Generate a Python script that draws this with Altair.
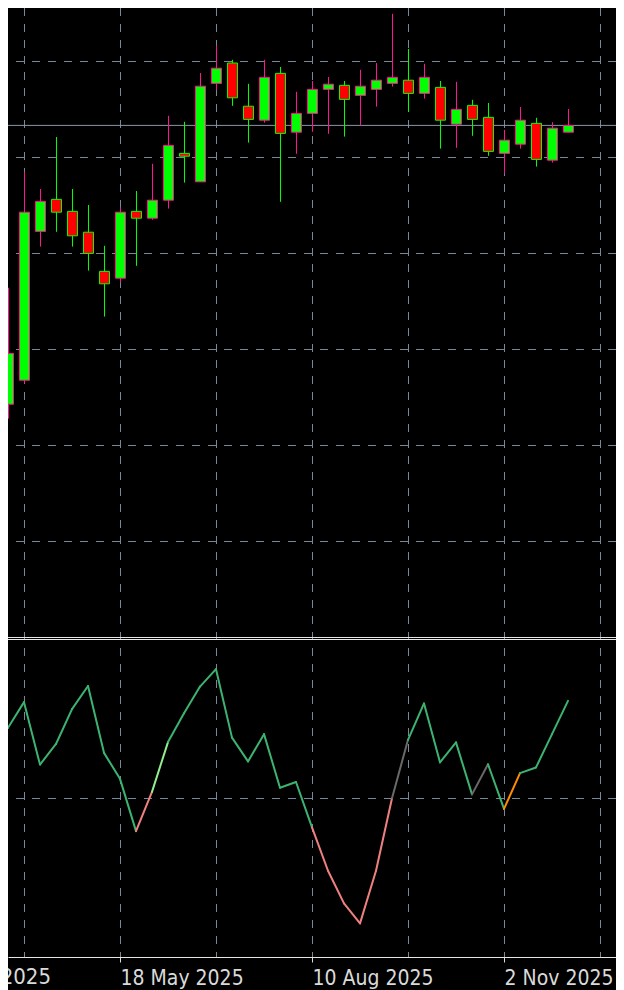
import altair as alt
import pandas as pd

# ---------------- data ----------------
weeks = [
    "2025-03-30", "2025-04-06", "2025-04-13", "2025-04-20", "2025-04-27", "2025-05-04",
    "2025-05-11", "2025-05-18", "2025-05-25", "2025-06-01", "2025-06-08", "2025-06-15",
    "2025-06-22", "2025-06-29", "2025-07-06", "2025-07-13", "2025-07-20", "2025-07-27",
    "2025-08-03", "2025-08-10", "2025-08-17", "2025-08-24", "2025-08-31", "2025-09-07",
    "2025-09-14", "2025-09-21", "2025-09-28", "2025-10-05", "2025-10-12", "2025-10-19",
    "2025-10-26", "2025-11-02", "2025-11-09", "2025-11-16", "2025-11-23", "2025-11-30",
]
opens = [1.0892, 1.0952, 1.1324, 1.1404, 1.1374, 1.1322, 1.1224, 1.1207, 1.1374, 1.1357,
         1.1402, 1.1519, 1.1448, 1.1694, 1.1745, 1.1637, 1.1602, 1.1719, 1.1572, 1.1619,
         1.1679, 1.1689, 1.1664, 1.1679, 1.1694, 1.1702, 1.1669, 1.1684, 1.1592, 1.1639,
         1.1609, 1.1519, 1.1542, 1.1594, 1.1502, 1.1572]
highs = [1.1183, 1.1473, 1.1430, 1.1560, 1.1430, 1.1390, 1.1288, 1.1384, 1.1425, 1.1493,
         1.1613, 1.1598, 1.1720, 1.1788, 1.1753, 1.1693, 1.1753, 1.1735, 1.1673, 1.1700,
         1.1710, 1.1700, 1.1728, 1.1745, 1.1868, 1.1780, 1.1743, 1.1700, 1.1698, 1.1653,
         1.1645, 1.1578, 1.1635, 1.1608, 1.1597, 1.1630]
lows = [1.0856, 1.0944, 1.1286, 1.1323, 1.1286, 1.1226, 1.1111, 1.1196, 1.1238, 1.1353,
        1.1381, 1.1446, 1.1448, 1.1678, 1.1638, 1.1546, 1.1596, 1.1398, 1.1518, 1.1573,
        1.1568, 1.1561, 1.1589, 1.1636, 1.1686, 1.1623, 1.1656, 1.1531, 1.1533, 1.1563,
        1.1513, 1.1468, 1.1531, 1.1486, 1.1496, 1.1572]
closes = [1.1019, 1.1372, 1.1399, 1.1372, 1.1313, 1.1269, 1.1193, 1.1372, 1.1357, 1.1402,
          1.1539, 1.1512, 1.1687, 1.1732, 1.1658, 1.1604, 1.1709, 1.1569, 1.1619, 1.1679,
          1.1692, 1.1654, 1.1687, 1.1702, 1.1709, 1.1669, 1.1709, 1.1602, 1.1629, 1.1604,
          1.1524, 1.1552, 1.1602, 1.1504, 1.1582, 1.1589]

osc_weeks = ["2025-03-23"] + weeks
osc_values = [68.8, 72.3, 80.4, 60.7, 67.2, 78.2, 85.5, 64.4, 56.2, 39.7, 52.1, 67.8, 76.9,
              85.3, 90.8, 69.2, 61.7, 70.3, 53.4, 55.2, 40.9, 27.2, 16.9, 10.6, 27.2, 50.1,
              68.5, 80.0, 61.4, 67.7, 51.3, 60.8, 46.7, 58.0, 59.8, 70.3, 80.8]
# state of the line segment that ends at each week
osc_states = (["bull"] * 9 + ["bear", "bull_start"] + ["bull"] * 9 + ["bear"] * 5
              + ["neutral"] + ["bull"] * 4 + ["neutral", "bull", "turn"] + ["bull"] * 3)
osc_level = [50]

price_grid = [1.175, 1.151, 1.127, 1.103, 1.079, 1.055]
time_grid = ["2025-04-06", "2025-05-18", "2025-06-29", "2025-08-10",
             "2025-09-21", "2025-11-02", "2025-12-14"]
label_dates = [(2025, 5, 18), (2025, 8, 10), (2025, 11, 2)]
early_label = ["2025-02-23"]          # label that starts left of the visible area

# ---------------- tables ----------------
candles = pd.DataFrame({"date": weeks, "open": opens, "high": highs,
                        "low": lows, "close": closes})
candles["dir"] = ["bull" if c >= o else "bear" for o, c in zip(opens, closes)]

segs = pd.DataFrame({
    "x0": osc_weeks[:-1], "x1": osc_weeks[1:],
    "v0": osc_values[:-1], "v1": osc_values[1:],
    "state": osc_states,
})

# ---------------- scales ----------------
W, PLOT_H, BOTTOM = 608, 949, 33
x_scale = alt.Scale(type="utc", nice=False, padding=0, domain=[
    alt.DateTime(year=2025, month=3, date=30, utc=True),
    alt.DateTime(year=2025, month=12, date=21, utc=True)])
price_scale = alt.Scale(domain=[1.03125, 1.18975], range=[628, -6],
                        nice=False, zero=False, padding=0)
osc_scale = alt.Scale(domain=[0, 100], range=[949, 632], nice=False, zero=False, padding=0)

FONT = "DejaVu Sans Condensed, Liberation Sans Narrow, DejaVu Sans"
LABEL_PAD = 22
TEXT_COLOR = "#DADADA"
x_axis = alt.Axis(
    values=[alt.DateTime(year=y, month=m, date=d, utc=True) for y, m, d in label_dates],
    format="%-d %b %Y", title=None, grid=False,
    labelAlign="left", labelBaseline="alphabetic", labelPadding=LABEL_PAD,
    labelFont=FONT, labelFontSize=21, labelColor=TEXT_COLOR,
    labelFlush=False, labelOverlap=False, labelBound=False,
    tickSize=5, tickColor=TEXT_COLOR, domainColor="#E6E6E6", domainWidth=1,
)


def X(field):
    return alt.X(field, type="temporal", scale=x_scale, axis=x_axis)


GRID = "#778899"
DASH = [8, 8]

vgrid = alt.Chart(pd.DataFrame({"date": time_grid})).mark_rule(
    color=GRID, strokeDash=DASH, strokeWidth=1, xOffset=0.5
).encode(x=X("date"))

hgrid = alt.Chart(pd.DataFrame({"level": price_grid})).mark_rule(
    color=GRID, strokeDash=DASH, strokeWidth=1, yOffset=0.5
).encode(y=alt.Y("level:Q", scale=price_scale, axis=None))

olevel = alt.Chart(pd.DataFrame({"level": osc_level})).mark_rule(
    color=GRID, strokeDash=DASH, strokeWidth=1
).encode(y=alt.Y("level:Q", scale=osc_scale, axis=None))

last_price = alt.Chart(pd.DataFrame({"p": [closes[-1]]})).mark_rule(
    color="#8796A8", strokeWidth=1
).encode(y=alt.Y("p:Q", scale=price_scale, axis=None))

dir_dom = ["bull", "bear"]
wicks = alt.Chart(candles).mark_rule(strokeWidth=1, xOffset=0.5).encode(
    x=X("date"),
    y=alt.Y("low:Q", scale=price_scale, axis=None),
    y2="high:Q",
    color=alt.Color("dir:N", scale=alt.Scale(domain=dir_dom, range=["#FF1493", "#00FF00"]),
                    legend=None),
)

bodies = alt.Chart(candles).mark_bar(size=10, strokeWidth=1, xOffset=0.5).encode(
    x=X("date"),
    y=alt.Y("open:Q", scale=price_scale, axis=None),
    y2="close:Q",
    fill=alt.Fill("dir:N", scale=alt.Scale(domain=dir_dom, range=["#00FF00", "#FF0000"]),
                  legend=None),
    stroke=alt.Stroke("dir:N", scale=alt.Scale(domain=dir_dom, range=["#FF1493", "#00FF00"]),
                      legend=None),
)

osc_line = alt.Chart(segs).mark_rule(strokeWidth=2, strokeCap="round").encode(
    x=X("x0"),
    x2="x1:T",
    y=alt.Y("v0:Q", scale=osc_scale, axis=None),
    y2="v1:Q",
    color=alt.Color("state:N", legend=None, scale=alt.Scale(
        domain=["bull", "bull_start", "bear", "neutral", "turn"],
        range=["#3CB371", "#90EE90", "#F08080", "#696969", "#FF8C00"])),
)

sep1 = alt.Chart(pd.DataFrame({"k": [0]})).mark_rule(color="#E6E6E6", strokeWidth=1).encode(
    y=alt.value(629.5))
sep2 = alt.Chart(pd.DataFrame({"k": [0]})).mark_rule(color="#E6E6E6", strokeWidth=1).encode(
    y=alt.value(631.5))

# the date label that begins left of the visible window (only "2025" shows)
early = alt.Chart(pd.DataFrame({"date": early_label})).mark_text(
    align="left", baseline="alphabetic", font=FONT, fontSize=22, color=TEXT_COLOR
).encode(
    x=X("date"),
    y=alt.value(PLOT_H + 5 + LABEL_PAD),
    text=alt.Text("date:T", format="%-d %b %Y"),
)

chart = alt.layer(
    vgrid, hgrid, olevel, last_price, wicks, bodies, osc_line, sep1, sep2, early
).resolve_scale(
    y="independent", color="independent", fill="independent", stroke="independent"
).properties(
    width=W, height=PLOT_H,
    autosize=alt.AutoSizeParams(type="none"),
    padding={"left": 0, "top": 0, "right": 0, "bottom": BOTTOM},
    background="#000000",
).configure_view(stroke=None)

chart.save("out.html", embed_options={"renderer": "svg", "actions": False})
